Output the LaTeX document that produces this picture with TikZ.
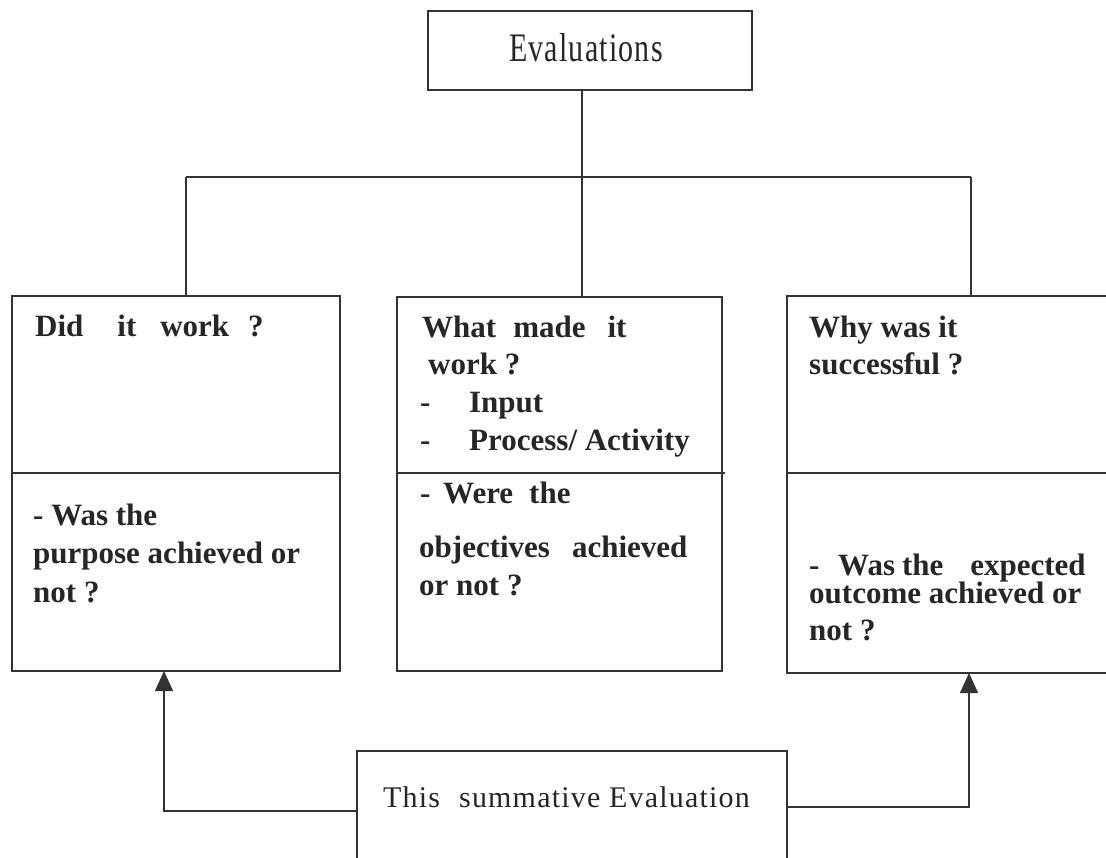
\documentclass[tikz,border=0pt]{standalone}
\usepackage{fontspec}
\usepackage{graphicx}
\setmainfont{Liberation Serif}
\usetikzlibrary{arrows.meta}
\begin{document}
\begin{tikzpicture}[x=1pt,y=-1pt,
  ln/.style={line width=1.3pt, draw=black!80},
  box/.style={ln, rectangle, inner sep=0pt, outer sep=0pt},
  bt/.style={anchor=base west, inner sep=0pt, text=black!85, font=\fontsize{31}{38}\selectfont\bfseries},
  rt/.style={anchor=base west, inner sep=0pt, text=black!85, font=\fontsize{30}{36}\selectfont\addfontfeature{LetterSpace=4}},
  arr/.style={ln, -{Triangle[length=20pt,width=18pt]}}]
\clip (0,0) rectangle (1106,858);
\fill[white] (0,0) rectangle (1106,858);
% boxes
\node[box, minimum width=324pt, minimum height=79pt] (top) at (590,50.5) {};
\node[box, minimum width=328pt, minimum height=375pt] (left) at (176,483.5) {};
\node[box, minimum width=325pt, minimum height=374pt] (mid) at (559.5,484) {};
\node[box, minimum width=343pt, minimum height=377pt] (right) at (958.5,484.5) {};
\node[box, minimum width=430pt, minimum height=149pt] (bot) at (572,825.5) {};
% dividers
\coordinate (dv) at (0,473);
\coordinate (dvm) at (725,473);
\draw[ln] (left.west |- dv) -- (left.east |- dv);
\draw[ln] (mid.west |- dv) -- (dvm);
\draw[ln] (right.west |- dv) -- (right.east |- dv);
% tree connectors
\coordinate (jT) at (582,177);
\coordinate (jL) at (186,177);
\coordinate (jR) at (971,177);
\draw[ln] (top.south -| jT) -- (mid.north -| jT);
\draw[ln] (jL) -- (jR);
\draw[ln] (jL) -- (left.north -| jL);
\draw[ln] (jR) -- (right.north -| jR);
% arrows
\coordinate (aL) at (164,811);
\coordinate (aR) at (969,807);
\draw[arr] (bot.west |- aL) -- (aL) -- (left.south -| aL);
\draw[arr] (bot.east |- aR) -- (aR) -- (right.south -| aR);
% texts
\node[rt, anchor=base] (tEval) at (586,62) {\scalebox{1}[1.35]{Evaluations}};
\node[rt] (tSum) at (383,807) {This\hspace{19pt}summative Evaluation};
\node[bt] (l1) at (35,337) {Did\hspace{34pt}it\hspace{24pt}work\hspace{19pt}?};
\node[bt] (l2) at (33,525) {- Was the};
\node[bt] (l3) at (33,563) {purpose achieved or};
\node[bt] (l4) at (33,602) {not ?};
\node[bt] (m1) at (422,338) {What\hspace{17pt}made\hspace{22pt}it};
\node[bt] (m2) at (428,375) {work ?};
\node[bt] (m3) at (420,413) {\makebox[49pt][l]{-}Input};
\node[bt] (m4) at (420,450) {\makebox[49pt][l]{-}Process/ Activity};
\node[bt] (m5) at (420,503) {\makebox[23pt][l]{-}Were\hspace{16pt}the};
\node[bt] (m6) at (419,557) {objectives\hspace{22pt}achieved};
\node[bt] (m7) at (419,595) {or not ?};
\node[bt] (r1) at (809,338) {Why was it};
\node[bt] (r2) at (809,375) {successful ?};
\node[bt] (r3) at (809,575) {\makebox[29pt][l]{-}Was\hspace{7pt}the\hspace{27pt}expected};
\node[bt] (r4) at (809,603) {outcome achieved or};
\node[bt] (r5) at (809,640) {not ?};
\end{tikzpicture}
\end{document}
